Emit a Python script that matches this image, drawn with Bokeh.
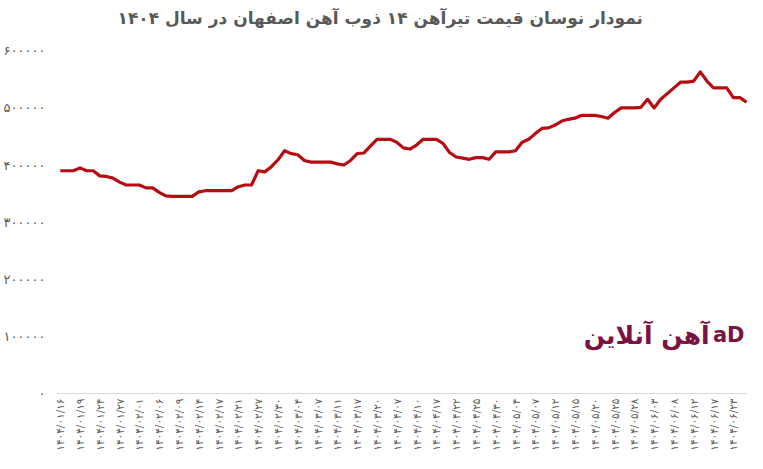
from bokeh.plotting import figure
from bokeh.models import FixedTicker, Range1d, Label, ColumnDataSource
from bokeh.embed import file_html
from bokeh.resources import INLINE
import math

title_text = "نمودار نوسان قیمت تیرآهن ۱۴ ذوب آهن اصفهان در سال ۱۴۰۴"

prices = [
    390000, 390000, 390000, 395000, 390000, 390000, 381000, 380000, 377000, 370000,
    365000, 365000, 365000, 360000, 360000, 352000, 346000, 345000, 345000, 345000,
    345000, 353000, 355000, 355000, 355000, 355000, 355000, 362000, 365000, 365000,
    390000, 388000, 397000, 409000, 425000, 420000, 418000, 408000, 405000, 405000,
    405000, 405000, 402000, 400000, 408000, 420000, 421000, 433000, 445000, 445000,
    445000, 440000, 430000, 428000, 435000, 445000, 445000, 445000, 438000, 422000,
    414000, 412000, 410000, 413000, 413000, 410000, 423000, 423000, 423000, 425000,
    440000, 445000, 455000, 464000, 465000, 470000, 477000, 480000, 482000, 487000,
    487000, 487000, 485000, 482000, 492000, 500000, 500000, 500000, 501000, 515000,
    500000, 515000, 525000, 535000, 545000, 545000, 547000, 563000, 547000, 535000,
    535000, 535000, 518000, 518000, 510000,
]

tick_labels = [
    "۱۴۰۴/۰۱/۱۶", "۱۴۰۴/۰۱/۱۹", "۱۴۰۴/۰۱/۲۴", "۱۴۰۴/۰۱/۲۷", "۱۴۰۴/۰۲/۰۱",
    "۱۴۰۴/۰۲/۰۶", "۱۴۰۴/۰۲/۰۹", "۱۴۰۴/۰۲/۱۴", "۱۴۰۴/۰۲/۱۷", "۱۴۰۴/۰۲/۲۱",
    "۱۴۰۴/۰۲/۲۷", "۱۴۰۴/۰۲/۳۰", "۱۴۰۴/۰۳/۰۴", "۱۴۰۴/۰۳/۰۷", "۱۴۰۴/۰۳/۱۱",
    "۱۴۰۴/۰۳/۱۷", "۱۴۰۴/۰۳/۲۰", "۱۴۰۴/۰۴/۰۷", "۱۴۰۴/۰۴/۱۰", "۱۴۰۴/۰۴/۱۷",
    "۱۴۰۴/۰۴/۲۲", "۱۴۰۴/۰۴/۲۵", "۱۴۰۴/۰۴/۳۰", "۱۴۰۴/۰۵/۰۴", "۱۴۰۴/۰۵/۰۷",
    "۱۴۰۴/۰۵/۱۲", "۱۴۰۴/۰۵/۱۵", "۱۴۰۴/۰۵/۲۰", "۱۴۰۴/۰۵/۲۵", "۱۴۰۴/۰۵/۲۸",
    "۱۴۰۴/۰۶/۰۳", "۱۴۰۴/۰۶/۰۸", "۱۴۰۴/۰۶/۱۲", "۱۴۰۴/۰۶/۱۷", "۱۴۰۴/۰۶/۲۳",
]
label_step = 3

y_ticks = [0, 100000, 200000, 300000, 400000, 500000, 600000]
y_tick_labels = ["۰", "۱۰۰۰۰۰", "۲۰۰۰۰۰", "۳۰۰۰۰۰", "۴۰۰۰۰۰", "۵۰۰۰۰۰", "۶۰۰۰۰۰"]

logo_text = "آهن آنلاین"

x = list(range(len(prices)))
src = ColumnDataSource(dict(x=x, y=prices))

p = figure(width=747, height=453, output_backend="svg", toolbar_location=None,
           x_range=Range1d(-0.56, len(prices) - 1 + 0.15),
           y_range=Range1d(0, 632000),
           min_border_left=56, min_border_right=0, min_border_top=10,
           min_border_bottom=10)

p.title.text = title_text
p.title.align = "left"
p.title.offset = 61
p.title.text_font = "DejaVu Sans"
p.title.text_font_size = "17px"
p.title.text_font_style = "bold"
p.title.text_color = "#595959"

p.line("x", "y", source=src, line_color="#b50d12", line_width=3.2, line_join="round")

tick_pos = [i * label_step for i in range(len(tick_labels))]
p.xaxis.ticker = FixedTicker(ticks=tick_pos)
p.xaxis.major_label_overrides = {t: l for t, l in zip(tick_pos, tick_labels)}
p.xaxis.major_label_orientation = math.pi / 2
p.xaxis.major_label_text_font = "DejaVu Sans"
p.xaxis.major_label_text_font_size = "10.5px"
p.xaxis.major_label_text_color = "#595959"
p.xaxis.major_label_standoff = 5
p.xaxis.major_tick_out = 0
p.xaxis.major_tick_in = 0
p.xaxis.axis_line_color = "#d9d9d9"
p.xaxis.major_tick_line_color = None
p.xaxis.minor_tick_line_color = None

p.yaxis.ticker = FixedTicker(ticks=y_ticks)
p.yaxis.major_label_overrides = {t: l for t, l in zip(y_ticks, y_tick_labels)}
p.yaxis.major_label_text_font = "DejaVu Sans"
p.yaxis.major_label_text_font_size = "13px"
p.yaxis.major_label_text_color = "#595959"
p.yaxis.major_label_standoff = 11
p.yaxis.major_tick_out = 0
p.yaxis.major_tick_in = 0
p.yaxis.axis_line_color = None
p.yaxis.major_tick_line_color = None
p.yaxis.minor_tick_line_color = None

p.xgrid.grid_line_color = None
p.ygrid.grid_line_color = None
p.outline_line_color = None

p.add_layout(Label(x=98.4, y=102000, text=logo_text, text_align="right",
                   text_baseline="middle", text_font="DejaVu Sans",
                   text_font_size="25px", text_font_style="bold",
                   text_color="#7a1242"))
p.add_layout(Label(x=101.3, y=103000, text="aD", text_align="center",
                   text_baseline="middle", text_font="DejaVu Sans",
                   text_font_size="21px", text_font_style="bold",
                   text_color="#7a1242"))

open("out.html", "w").write(file_html(p, INLINE))
